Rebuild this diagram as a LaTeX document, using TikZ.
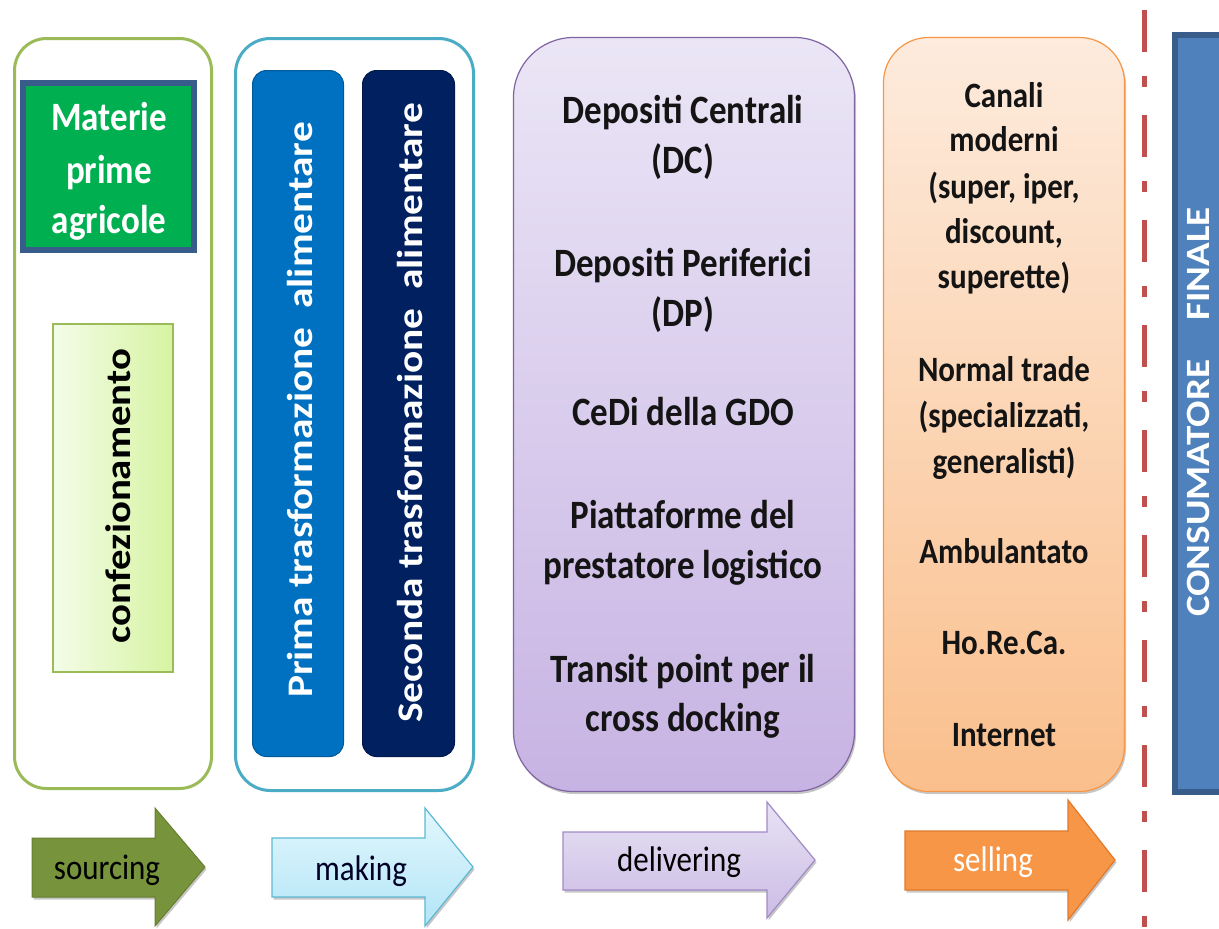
\documentclass[tikz,border=0pt]{standalone}
\usepackage{fontspec}
\setmainfont{Carlito}
\usepackage{graphicx}
\usetikzlibrary{shadows}
\definecolor{cGreenLine}{HTML}{9BBB59}
\definecolor{cBlueLine}{HTML}{4BACC6}
\definecolor{cMat}{HTML}{00B050}
\definecolor{cMatB}{HTML}{385D8A}
\definecolor{cPrima}{HTML}{0070C0}
\definecolor{cSec}{HTML}{002060}
\definecolor{cPurTop}{HTML}{EBE6F6}
\definecolor{cPurBot}{HTML}{C7B3E3}
\definecolor{cPurLine}{HTML}{8064A2}
\definecolor{cOrTop}{HTML}{FDEBDD}
\definecolor{cOrBot}{HTML}{FABF8C}
\definecolor{cOrLine}{HTML}{F79646}
\definecolor{cCons}{HTML}{4F81BD}
\definecolor{cDash}{HTML}{C0504D}
\definecolor{cConfL}{HTML}{F4FCE8}
\definecolor{cConfR}{HTML}{D6F4A2}
\definecolor{cSrc}{HTML}{77933C}
\definecolor{cSrcB}{HTML}{66802F}
\definecolor{cMakTop}{HTML}{E2F7FD}
\definecolor{cMakBot}{HTML}{B3E5F7}
\definecolor{cMakB}{HTML}{5DB8D4}
\definecolor{cDelTop}{HTML}{E8E2F4}
\definecolor{cDelBot}{HTML}{CBBCE5}
\definecolor{cDelB}{HTML}{A08BC6}
\definecolor{cSelB}{HTML}{E07A2A}
\newcommand\vstr[1]{\scalebox{1}[1.15]{#1}}
\newcommand\hstr[1]{\scalebox{1.15}[1]{#1}}
\begin{document}
\begin{tikzpicture}[x=1pt,y=-1pt,
  txt/.style={inner sep=0, anchor=base, font=\fontsize{35}{42}\selectfont\bfseries},
  otxt/.style={inner sep=0, anchor=base, font=\fontsize{31}{38}\selectfont\bfseries},
  rtxt/.style={inner sep=0, anchor=base, rotate=90, font=\fontsize{36}{42}\selectfont\bfseries},
  atxt/.style={inner sep=0, anchor=base, font=\fontsize{31}{38}\selectfont},
  box/.style={rectangle, inner sep=0, outer sep=0},
  shad/.style={drop shadow={shadow xshift=1.5pt, shadow yshift=-2.5pt, opacity=0.22, fill=black}},
]
\clip (0,0) rectangle (1219,929);
\fill[white] (0,0) rectangle (1219,929);

% ---- sourcing column
\node[box, draw=cGreenLine, line width=3pt, rounded corners=32pt,
      minimum width=197pt, minimum height=750pt] (srcbox) at (113,413.5) {};
\node[box, fill=cMat, draw=cMatB, line width=6pt,
      minimum width=171pt, minimum height=167pt] (mat) at (108.5,166.5) {};
\node[txt, text=white] (mat1) at (109,130) {\vstr{Materie}};
\node[txt, text=white] (mat2) at (109,183) {\vstr{prime}};
\node[txt, text=white] (mat3) at (109,233) {\vstr{agricole}};
\node[box, left color=cConfL, right color=cConfR, draw=cGreenLine, line width=2pt,
      minimum width=120pt, minimum height=348pt] (conf) at (113,498) {};
\node[rtxt, font=\fontsize{35.5}{42}\selectfont\bfseries] (conft) at (130,496) {\hstr{confezionamento}};

% ---- making column
\node[box, draw=cBlueLine, line width=3pt, rounded corners=35pt,
      minimum width=238pt, minimum height=752pt] (makbox) at (354.5,414.5) {};
\node[box, fill=cPrima, draw=cPrima!80!black, line width=1pt, rounded corners=14pt,
      minimum width=91pt, minimum height=686pt] (prima) at (298,413.5) {};
\node[box, fill=cSec, draw=cSec!80!black, line width=1pt, rounded corners=14pt,
      minimum width=92pt, minimum height=686pt] (seconda) at (408.5,413.5) {};
\node[rtxt, text=white] (primat) at (312,410) {\hstr{Prima trasformazione\ \ alimentare}};
\node[rtxt, text=white] (secondat) at (422,413) {\hstr{Seconda trasformazione\ \ alimentare}};

% ---- delivering column
\node[box, shad, top color=cPurTop, bottom color=cPurBot, draw=cPurLine, line width=1.2pt,
      rounded corners=60pt, minimum width=341pt, minimum height=754pt] (delbox) at (684,414.5) {};
\foreach \t/\y [count=\i] in {Depositi Centrali/123, (DC)/173, Depositi Periferici/276,
   (DP)/326, CeDi della GDO/425, Piattaforme del/528, prestatore logistico/578,
   Transit point per il/682, cross docking/731}
  \node[txt, text=black!92] (del\i) at (683,\y) {\vstr{\t}};

% ---- selling column
\node[box, shad, top color=cOrTop, bottom color=cOrBot, draw=cOrLine, line width=1.2pt,
      rounded corners=45pt, minimum width=241pt, minimum height=754pt] (selbox) at (1004,414.5) {};
\foreach \t/\y [count=\i] in {Canali/107, moderni/151, {(super, iper,}/198, {discount,}/243,
   superette)/288, Normal trade/381, {(specializzati,}/427, generalisti)/473,
   Ambulantato/563, Ho.Re.Ca./654, Internet/746}
  \node[otxt, text=black!92] (sel\i) at (1004,\y) {\vstr{\t}};

% ---- dashed separator
\coordinate (dtop) at (1144,10);
\coordinate (dbot) at (1144,935);
\draw[cDash, line width=5pt, dash pattern=on 42pt off 24pt on 11pt off 28pt] (dtop) -- (dbot);

% ---- consumer (runs off the right edge)
\node[box, fill=cCons, draw=cMatB, line width=6pt,
      minimum width=47pt, minimum height=757pt] (cons) at (1198.5,413.5) {};
\node[rtxt, text=white, font=\fontsize{34}{42}\selectfont\bfseries] (const) at (1209,412)
  {\hstr{CONSUMATORE\hspace{1em}FINALE}};

% ---- bottom arrows
\path[shad, fill=cSrc, draw=cSrcB, line width=1pt]
  (32,838) -- (155,838) -- (155,808) -- (205,867) -- (155,926) -- (155,897) -- (32,897) -- cycle;
\node[atxt, text=black] (sourcing) at (107,879) {\vstr{sourcing}};

\path[shad, top color=cMakTop, bottom color=cMakBot, draw=cMakB, line width=1.2pt]
  (272,838) -- (425,838) -- (425,808) -- (473,867) -- (425,926) -- (425,897) -- (272,897) -- cycle;
\node[atxt, text=black!85!blue] (making) at (361,880) {\vstr{making}};

\path[shad, top color=cDelTop, bottom color=cDelBot, draw=cDelB, line width=1.2pt]
  (563,832) -- (767,832) -- (767,802) -- (815,860) -- (767,918) -- (767,890) -- (563,890) -- cycle;
\node[atxt, text=black] (delivering) at (679,871) {\vstr{delivering}};

\path[shad, fill=cOrLine, draw=cSelB, line width=1.2pt]
  (905,831) -- (1068,831) -- (1068,800) -- (1115,860) -- (1068,920) -- (1068,890) -- (905,890) -- cycle;
\node[atxt, text=white] (selling) at (993,871) {\vstr{selling}};
\end{tikzpicture}
\end{document}
